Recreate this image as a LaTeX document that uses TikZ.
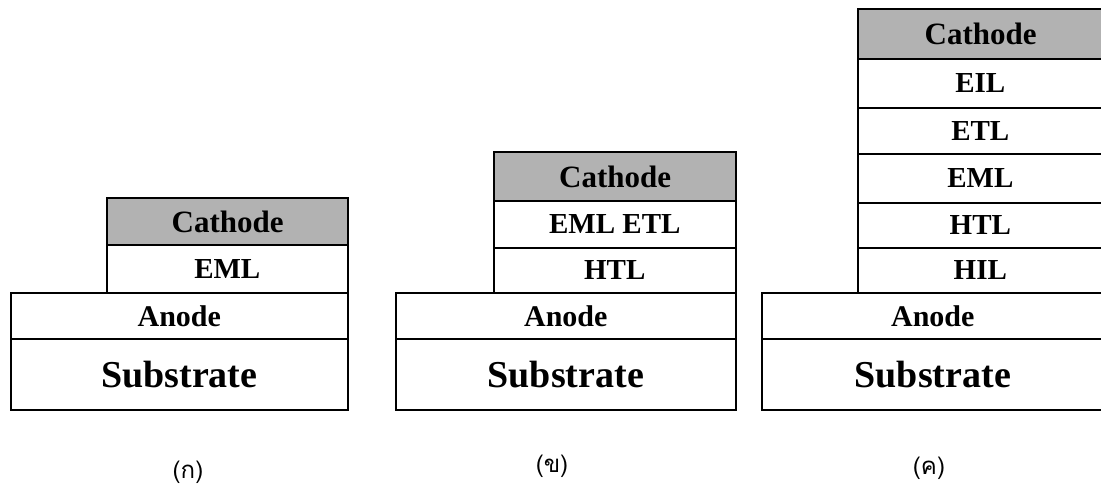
\documentclass[tikz,border=0pt]{standalone}
\usepackage{fontspec}
\setmainfont{Liberation Serif}
\newfontfamily\thaifont[Script=Thai]{Loma}

\begin{document}
\begin{tikzpicture}[x=1pt,y=-1pt,
    layer/.style={draw,line width=1.6pt,inner sep=0pt,anchor=north west,
        font=\fontsize{29}{29}\selectfont\bfseries},
    cathode/.style={layer,fill=black!30,line width=2.4pt,
        font=\fontsize{31}{31}\selectfont\bfseries},
    caption/.style={font=\thaifont\fontsize{24}{24}\selectfont,inner sep=1pt}]
    \useasboundingbox (0,0) rectangle (1101,490);

    % substrate and anode of each device
    \foreach \p/\xa/\w in {a/10/337pt,b/395/340pt,c/761/342pt}{
        \node[layer,minimum width=\w,minimum height=71pt,
              font=\fontsize{38}{38}\selectfont\bfseries] (\p-sub) at (\xa,338) {Substrate};
        \node[layer,minimum width=\w,minimum height=46pt,
              font=\fontsize{30}{30}\selectfont\bfseries] (\p-ano) at (\xa,292) {Anode};
    }

    % organic layers
    \foreach \nm/\txt/\xa/\ya/\w/\h in {
        a-eml/EML/106/244/241pt/48pt,
        b-htl/HTL/493/247/242pt/45pt,
        b-eml/EML ETL/493/200/242pt/47pt,
        c-hil/HIL/857/247/245pt/45pt,
        c-htl/HTL/857/202/245pt/45pt,
        c-eml/EML/857/153/245pt/49pt,
        c-etl/ETL/857/107/245pt/46pt,
        c-eil/EIL/857/58/245pt/49pt}{
        \node[layer,minimum width=\w,minimum height=\h] (\nm) at (\xa,\ya) {\txt};
    }

    % cathode on top
    \foreach \p/\xa/\ya/\w/\h in {a/106/197/241pt/47pt,b/493/151/242pt/49pt,c/857/8/245pt/50pt}{
        \node[cathode,minimum width=\w,minimum height=\h] (\p-cat) at (\xa,\ya) {Cathode};
    }

    \node[caption] (a-cap) at (188,472) {(ก)};
    \node[caption] (b-cap) at (552,466) {(ข)};
    \node[caption] (c-cap) at (929,468) {(ค)};
\end{tikzpicture}
\end{document}
